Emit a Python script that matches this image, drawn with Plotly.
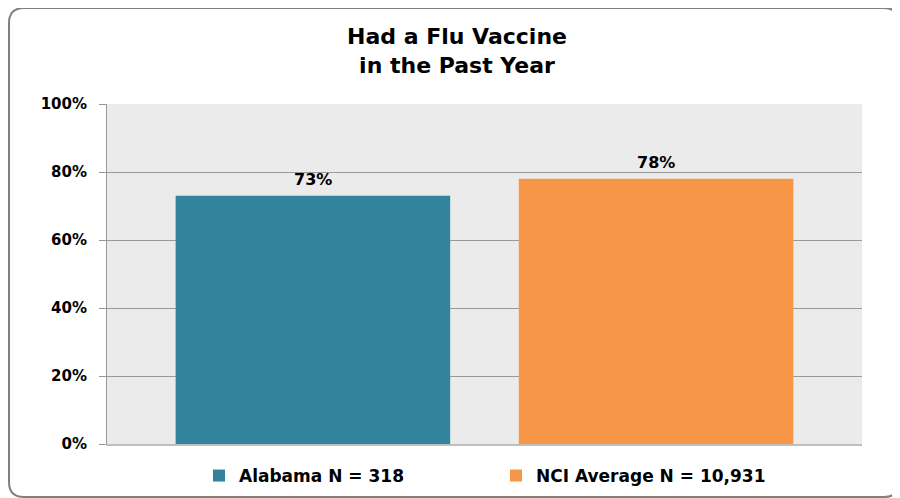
import plotly.graph_objects as go

series_names = ["Alabama N = 318", "NCI Average N = 10,931"]
values = [73, 78]
value_labels = ["73%", "78%"]
colors = ["#31849B", "#F79646"]
y_ticks = [0, 20, 40, 60, 80, 100]
y_tick_labels = ["0%", "20%", "40%", "60%", "80%", "100%"]
title_text = "Had a Flu Vaccine<br>in the Past Year"

# page has an 8px body margin; figure coords = page coords - 8
OFF = 8
W, H = 900 - OFF, 498 - OFF
L, R, T, B = 107 - OFF, 900 - 862, 104 - OFF, 498 - 444
PW, PH = W - L - R, H - T - B

def px(xp):
    return (xp - OFF - L) / PW

def py(yp):
    return (H - B - (yp - OFF)) / PH

FONT = "DejaVu Sans"

fig = go.Figure()
for i, (name, v, lab, c) in enumerate(zip(series_names, values, value_labels, colors)):
    fig.add_trace(go.Bar(
        x=[i], y=[v], name=f"<b>{name}</b>", width=0.8,
        marker=dict(color=c, line=dict(width=0)),
        hoverinfo="skip",
    ))
    fig.add_annotation(
        x=i, y=v, xref="x", yref="y", text=f"<b>{lab}</b>",
        showarrow=False, yanchor="bottom", yshift=5,
        font=dict(family=FONT, size=16, color="#000000"),
    )

# rounded border
x0, x1 = px(9), px(899)
y0, y1 = py(497), py(8)
rx, ry = 15 / PW, 15 / PH
path = (f"M {x0+rx},{y1} L {x1-rx},{y1} Q {x1},{y1} {x1},{y1-ry} "
        f"L {x1},{y0+ry} Q {x1},{y0} {x1-rx},{y0} "
        f"L {x0+rx},{y0} Q {x0},{y0} {x0},{y0+ry} "
        f"L {x0},{y1-ry} Q {x0},{y1} {x0+rx},{y1} Z")
fig.add_shape(type="path", path=path, xref="paper", yref="paper",
              line=dict(color="#808080", width=2), layer="below")

fig.update_layout(
    width=W, height=H,
    margin=dict(l=L, r=R, t=T, b=B, autoexpand=False),
    paper_bgcolor="#FFFFFF",
    plot_bgcolor="#EBEBEB",
    barmode="group",
    showlegend=True,
    title=dict(
        text=f"<b>{title_text}</b>",
        x=(457 - OFF) / W, xanchor="center", xref="container",
        y=1 - (44 - OFF) / H, yanchor="middle", yref="container",
        font=dict(family=FONT, size=22, color="#000000"),
    ),
    xaxis=dict(
        range=[-0.6, 1.6], showticklabels=False, showgrid=False,
        zeroline=False, showline=True, linecolor="#BFBFBF", linewidth=2,
        ticks="", fixedrange=True,
    ),
    yaxis=dict(
        range=[0, 100], tickvals=y_ticks, ticktext=[f"<b>{t}</b>" for t in y_tick_labels],
        showgrid=True, gridcolor="#999999", gridwidth=1,
        zeroline=False, showline=True, linecolor="#999999", linewidth=1,
        ticks="outside", ticklen=7, tickcolor="#999999",
        tickfont=dict(family=FONT, size=15, color="#000000"),
        ticklabelstandoff=9, automargin=False,
    ),
    legend=dict(
        orientation="h", x=(496 - OFF) / W, xanchor="center", xref="container",
        y=1 - (476 - OFF) / H, yanchor="middle", yref="container",
        font=dict(family=FONT, size=17, color="#000000"),
        entrywidth=252, entrywidthmode="pixels",
        bgcolor="rgba(0,0,0,0)",
    ),
)

fig.write_html("out.html")
